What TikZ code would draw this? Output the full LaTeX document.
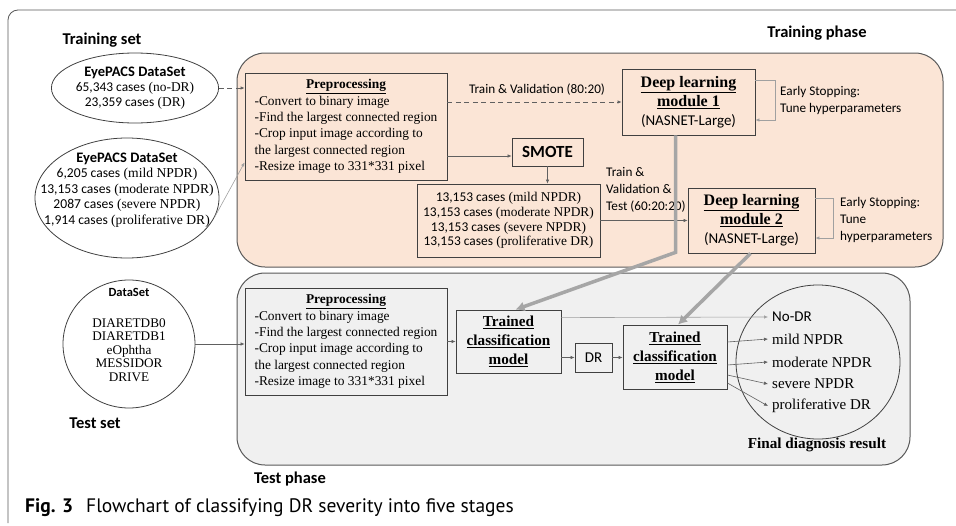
\documentclass[tikz,border=0pt]{standalone}
\usepackage{fontspec}
\setmainfont{Liberation Serif}
\newfontfamily\carl{Carlito}
\newfontfamily\capf{PT Sans}
\usetikzlibrary{shapes.geometric,arrows.meta,calc}
\definecolor{peach}{HTML}{FBE5D6}
\definecolor{lgrey}{HTML}{F0F0F0}
\definecolor{bord}{HTML}{404040}
\definecolor{phbord}{HTML}{595959}
\definecolor{conn}{HTML}{606060}
\definecolor{fb}{HTML}{A0A0A0}
\definecolor{thk}{HTML}{A6A6A6}
\newcommand{\cs}[1]{{\carl #1}}
\newcommand{\pptext}{\begin{tabular}{@{}l@{}}\multicolumn{1}{@{}c@{}}{\bfseries\underline{Preprocessing}}\\-Convert to binary image\\-Find the largest connected region\\-Crop input image according to\\the largest connected region\\-Resize image to 331*331 pixel\end{tabular}}
\begin{document}
\begin{tikzpicture}[x=1pt,y=-1pt,
  box/.style={draw=bord, line width=0.8pt, inner sep=0pt, align=center},
  ell/.style={ellipse, draw=bord, line width=0.8pt, inner sep=0pt},
  arr/.style={draw=conn, line width=0.6pt, -{Latex[length=4pt,width=3.5pt]}},
  darr/.style={arr, line width=0.9pt, dash pattern=on 5pt off 3.5pt},
  fbarr/.style={draw=fb, line width=0.7pt, -{Latex[length=4pt,width=3.5pt]}},
  tharr/.style={draw=thk, line width=3.5pt, -{Latex[length=9pt,width=10pt]}},
  phase/.style={draw=phbord, line width=1pt, rounded corners=28pt},
  ttl/.style={font=\carl\bfseries\fontsize{16.5}{18}\selectfont, inner sep=0pt},
  sm/.style={font=\carl\fontsize{13.2}{17}\selectfont, inner sep=0pt, align=left},
  pp/.style={box, minimum width=202pt, minimum height=107pt, font=\fontsize{13.4}{16.3}\selectfont},
  dl/.style={box, font=\fontsize{16}{19}\selectfont\bfseries},
  tcm/.style={box, font=\fontsize{15.2}{19}\selectfont\bfseries},
  outl/.style={anchor=west, inner sep=0pt, inner xsep=4pt, font=\fontsize{15}{17}\selectfont}]
\useasboundingbox (0,0) rectangle (956,525);
% outer frame
\draw[draw=phbord, line width=0.8pt, rounded corners=10pt] (956,10) -- (8,10) -- (8,523);
% phases
\node[phase, fill=peach, minimum width=706pt, minimum height=214pt, inner sep=0pt] (trph) at (590,160) {};
\node[phase, fill=lgrey, minimum width=673pt, minimum height=192pt, inner sep=0pt] (teph) at (573.5,369) {};
% titles
\node[ttl] (trset) at (102,40) {Training set};
\node[ttl] (trphl) at (817,33) {Training phase};
\node[ttl] (teset) at (95,423) {Test set};
\node[ttl] (tephl) at (290,479) {Test phase};
% training datasets
\node[ell, fill=white, minimum width=140pt, minimum height=70pt, align=center, font=\fontsize{13.4}{15}\selectfont] (e1) at (135,88)
  {{\carl\bfseries\fontsize{14.5}{15}\selectfont EyePACS DataSet}\\\cs{65,343 cases} (no-DR)\\\cs{23,359 cases} (DR)};
\node[ell, fill=white, minimum width=184pt, minimum height=120pt] (e2) at (127,198) {};
\node[inner sep=0pt, align=center, font=\fontsize{13.6}{15.5}\selectfont] (e2t) at (127,190)
  {{\carl\bfseries\fontsize{14.5}{15.5}\selectfont EyePACS DataSet}\\\cs{6,205 cases} (mild NPDR)\\\cs{13,153 cases} (moderate NPDR)\\\cs{2087 cases} (severe NPDR)\\\cs{1,914 cases} (proliferative DR)};
% training boxes
\node[pp] (pp1) at (346,126.5) {\pptext};
\node[dl, minimum width=133pt, minimum height=66pt] (dl1) at (688.5,102)
  {\underline{Deep learning}\\\underline{module 1}\\{\carl\mdseries\fontsize{15}{19}\selectfont (NASNET-Large)}};
\node[box, minimum width=71pt, minimum height=28pt, font=\carl\bfseries\fontsize{17}{19}\selectfont] (smote) at (547.5,152) {SMOTE};
\node[box, minimum width=183pt, minimum height=73pt, font=\fontsize{13.4}{14.8}\selectfont] (cases) at (508.5,220.5)
  {\cs{13,153 cases} (mild NPDR)\\\cs{13,153 cases} (moderate NPDR)\\\cs{13,153 cases} (severe NPDR)\\\cs{13,153 cases} (proliferative DR)};
\node[dl, minimum width=127pt, minimum height=65pt] (dl2) at (751.5,220.5)
  {\underline{Deep learning}\\\underline{module 2}\\{\carl\mdseries\fontsize{15}{19}\selectfont (NASNET-Large)}};
\node[sm, anchor=west] (es1) at (780,100) {Early Stopping:\\Tune hyperparameters};
\node[sm, anchor=west] (es2) at (840,220) {Early Stopping:\\Tune\\hyperparameters};
\node[sm, anchor=center] (tv1) at (537,90) {Train \& Validation (80:20)};
\node[sm, anchor=west] (tv2) at (606,190) {Train \&\\Validation \&\\Test (60:20:20)};
% test side
\node[ell, fill=white, minimum width=132pt, minimum height=128pt] (te) at (129,344) {};
\node[inner sep=0pt, font=\carl\bfseries\fontsize{12.5}{14}\selectfont] (tet) at (129,292) {DataSet};
\node[inner sep=0pt, align=center, font=\fontsize{13.2}{13.6}\selectfont] (tel) at (129,350)
  {DIARETDB0\\DIARETDB1\\eOphtha\\MESSIDOR\\DRIVE};
\node[pp] (pp2) at (346,341.5) {\pptext};
\node[tcm, minimum width=105pt, minimum height=63pt] (tcm1) at (508.5,341.5)
  {\underline{Trained}\\\underline{classification}\\\underline{model}};
\node[box, minimum width=37pt, minimum height=29pt, font=\carl\fontsize{15}{17}\selectfont] (dr) at (593.5,357.5) {DR};
\node[tcm, minimum width=104pt, minimum height=64pt] (tcm2) at (675,357)
  {\underline{Trained}\\\underline{classification}\\\underline{model}};
\node[ell, minimum width=164pt, minimum height=154pt] (oc) at (818,362) {};
\node[outl, font=\carl\fontsize{15}{17}\selectfont] (lnodr) at (768,317) {No-DR};
\node[outl] (lmild) at (768,339) {mild NPDR};
\node[outl] (lmod) at (768,362) {moderate NPDR};
\node[outl] (lsev) at (768,384) {severe NPDR};
\node[outl] (lpro) at (768,406) {proliferative DR};
\node[inner sep=0pt, font=\bfseries\fontsize{15.2}{17}\selectfont] (fdr) at (817,445) {Final diagnosis result};
% caption
\node[anchor=west, inner sep=0pt, font=\capf\bfseries\fontsize{19.5}{21}\selectfont] (figl) at (25,508) {Fig. 3};
\node[anchor=west, inner sep=0pt, font=\capf\fontsize{19.5}{21}\selectfont] (capt) at (86,508) {Flowchart of classifying DR severity into five stages};
% connectors training
\draw[darr] (e1.east) -- (e1.east -| pp1.west);
\draw[arr, draw=fb] (e2.-12) -- ($(pp1.south west)+(0,-18)$);
\draw[darr] (pp1.east |- dl1.west) -- (dl1.west);
\draw[arr] (pp1.east |- {$(smote.west)+(0,4)$}) -- ($(smote.west)+(0,4)$);
\draw[arr] (smote.south) -- (smote.south |- cases.north);
\draw[arr] (cases.east) -- (cases.east -| dl2.west);
\draw[fbarr] ($(dl1.east)+(0,-22)$) -| ($(dl1.east)+(20,18)$) -- ($(dl1.east)+(0,18)$);
\draw[fbarr] ($(dl2.east)+(0,-22.5)$) -| ($(dl2.east)+(18,17.5)$) -- ($(dl2.east)+(0,17.5)$);
% thick arrows
\coordinate (bend1) at ($(dl1.south)+(-13,117)$);
\draw[tharr] ($(dl1.south)+(-13,0)$) -- (bend1) -- ($(tcm1.north)+(7,0)$);
\draw[tharr] ($(dl2.south)+(-1,0)$) -- ($(tcm2.north)+(3,0)$);
% connectors test
\draw[arr] (te.east) -- (te.east -| pp2.west);
\draw[arr] (pp2.east) -- (pp2.east -| tcm1.west);
\draw[arr] (tcm1.east |- dr.west) -- (dr.west);
\draw[arr] (dr.east) -- (dr.east -| tcm2.west);
\draw[arr, draw=fb] ($(tcm1.north east)+(0,8)$) -- (lnodr.west);
\draw[arr] ($(tcm2.east)+(0,-15)$) -- (lmild.west);
\draw[arr] ($(tcm2.east)+(0,8)$) -- (lmod.west);
\draw[arr] ($(tcm2.east)+(0,18)$) -- (lsev.west);
\draw[arr] ($(tcm2.east)+(0,26)$) -- (lpro.west);
\end{tikzpicture}
\end{document}
